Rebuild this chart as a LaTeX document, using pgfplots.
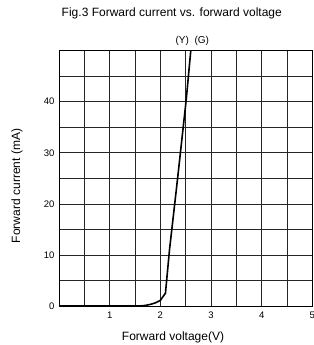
\documentclass[border=0pt]{standalone}
\usepackage{fontspec}
\setmainfont{Liberation Sans}
\usepackage{pgfplots}
\pgfplotsset{compat=1.18}
\begin{document}
\begin{tikzpicture}
\begin{axis}[
  scale only axis,
  width=253pt, height=255pt,
  at={(0,0)}, anchor=south west,
  xmin=0, xmax=5, ymin=0, ymax=50,
  xtick={1,2,3,4,5}, minor xtick={0.5,1.5,2.5,3.5,4.5},
  ytick={0,10,20,30,40}, minor ytick={5,15,25,35,45},
  major tick length=0pt, minor tick length=0pt,
  grid=both,
  major grid style={black!85, line width=0.6pt},
  minor grid style={black!85, line width=0.6pt},
  axis line style={black, line width=0.8pt},
  /pgf/number format/assume math mode=true,
  tick label style={font=\fontsize{9.5}{11}\selectfont},
  xticklabel style={yshift=-2pt},
  yticklabel style={xshift=-1pt},
  xlabel={Forward voltage(V)},
  ylabel={Forward current (mA)},
  xlabel style={font=\fontsize{12}{14}\selectfont, at={(axis description cs:0.45,-0.122)}, anchor=center},
  ylabel style={font=\fontsize{12}{14}\selectfont, at={(axis description cs:-0.166,0.47)}, anchor=center, rotate=0},
  clip=false,
]
\addplot[black, line width=1.6pt] coordinates {
  (0,0) (1.6,0) (1.7,0.1) (1.8,0.3) (1.9,0.6) (2.0,1.1) (2.1,2.5)
  (2.18,11) (2.34,25) (2.51,40.4) (2.6,50)
};
\node[font=\fontsize{10}{12}\selectfont] at (axis cs:2.63,52) {(Y)\ \ (G)};
\node[font=\fontsize{12}{14}\selectfont] at (axis description cs:0.445,1.145) {Fig.3 Forward current vs. forward voltage};
\end{axis}
\pgfresetboundingbox
\path[use as bounding box] (-59pt,-39pt) rectangle (254pt,305.6pt);
\end{tikzpicture}
\end{document}
